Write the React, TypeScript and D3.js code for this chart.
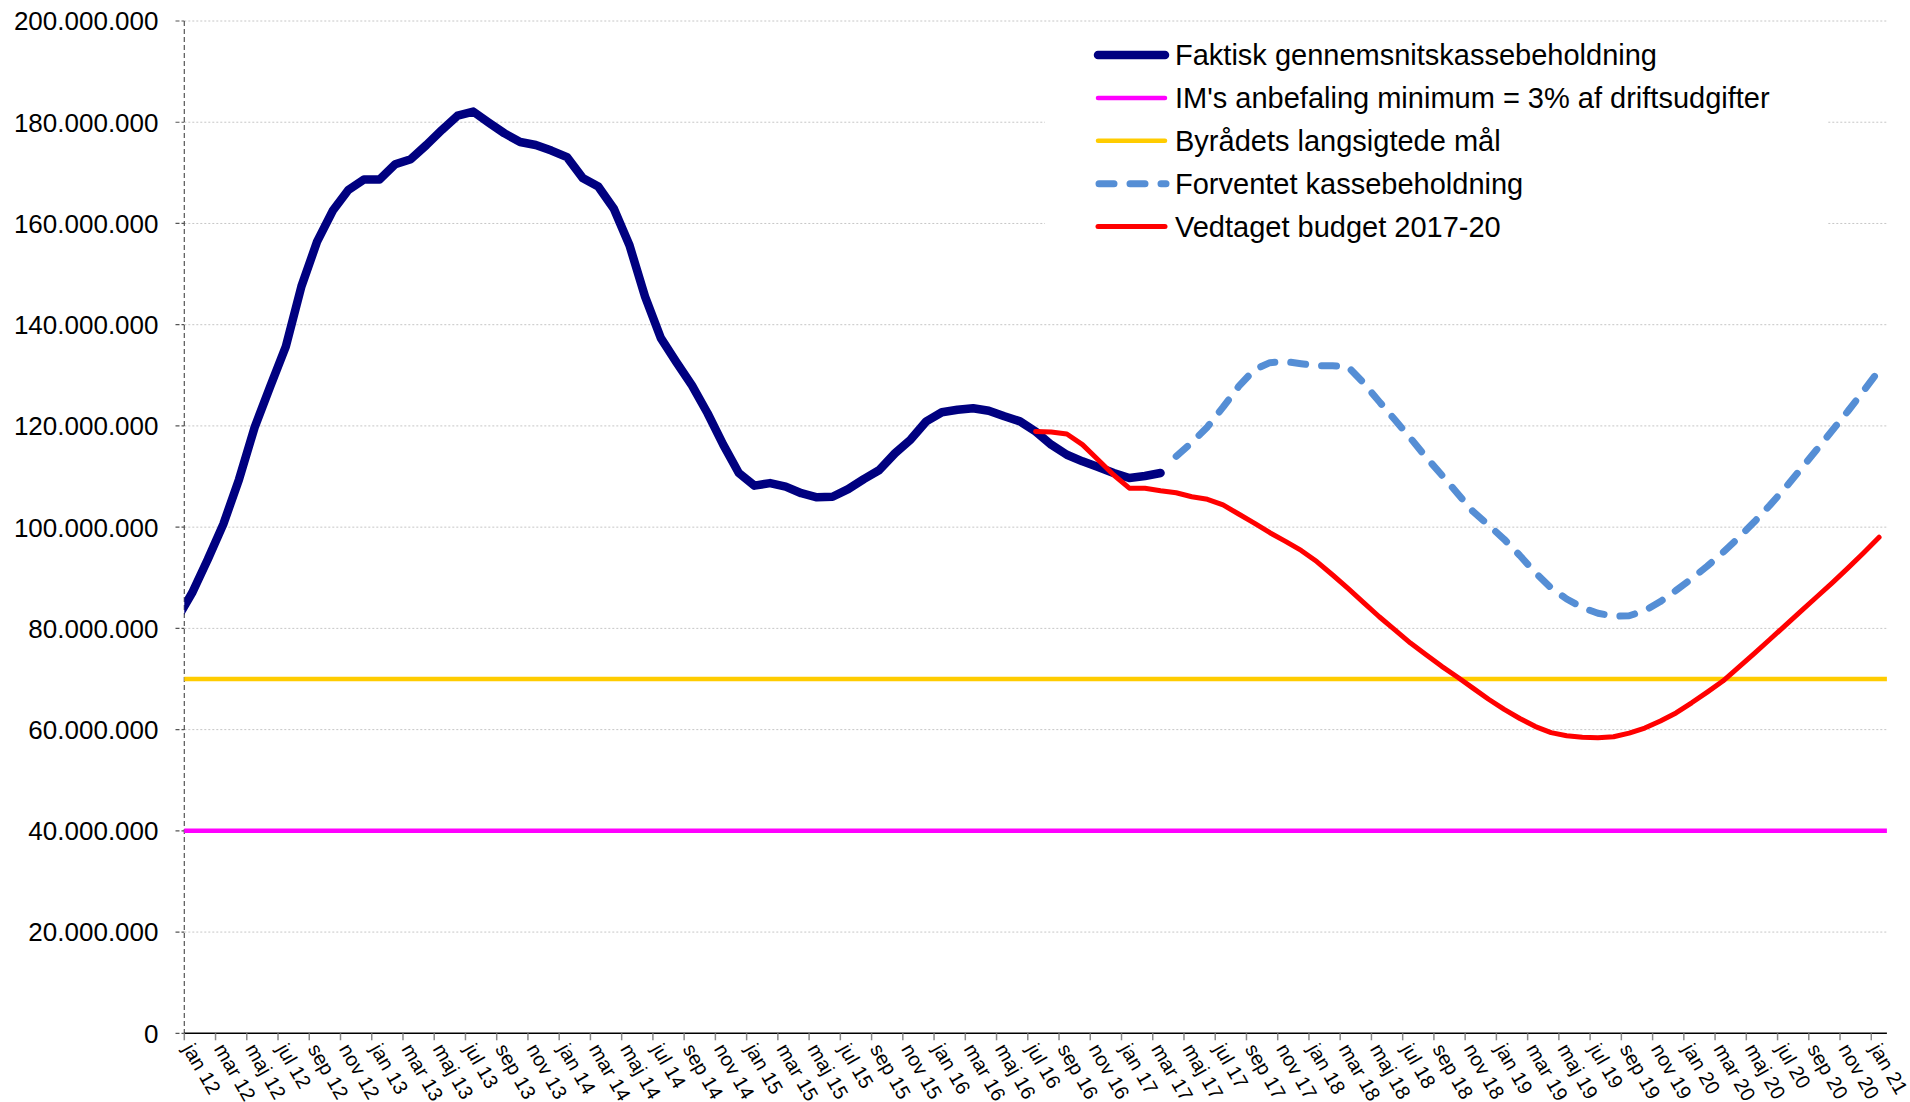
import React from "react";
import * as d3 from "d3";

const W = 1910;
const H = 1102;

const monthNames = ["jan", "feb", "mar", "apr", "maj", "jun", "jul", "aug", "sep", "okt", "nov", "dec"];

const tickLabels = [
  "jan 12", "mar 12", "maj 12", "jul 12", "sep 12", "nov 12",
  "jan 13", "mar 13", "maj 13", "jul 13", "sep 13", "nov 13",
  "jan 14", "mar 14", "maj 14", "jul 14", "sep 14", "nov 14",
  "jan 15", "mar 15", "maj 15", "jul 15", "sep 15", "nov 15",
  "jan 16", "mar 16", "maj 16", "jul 16", "sep 16", "nov 16",
  "jan 17", "mar 17", "maj 17", "jul 17", "sep 17", "nov 17",
  "jan 18", "mar 18", "maj 18", "jul 18", "sep 18", "nov 18",
  "jan 19", "mar 19", "maj 19", "jul 19", "sep 19", "nov 19",
  "jan 20", "mar 20", "maj 20", "jul 20", "sep 20", "nov 20",
  "jan 21",
];

const yTicks = [0, 20e6, 40e6, 60e6, 80e6, 100e6, 120e6, 140e6, 160e6, 180e6, 200e6];

// Values in mio. kr
const faktiskStart = "dec 11";
const faktisk = [
  81.7, 87.0, 93.6, 100.6, 109.4, 119.7, 127.8, 135.7, 147.6, 156.4, 162.5, 166.6, 168.7,
  168.7, 171.7, 172.7, 175.5, 178.5, 181.3, 182.1, 179.9, 177.8, 176.1, 175.5, 174.4,
  173.1, 169.0, 167.3, 162.9, 155.7, 145.5, 137.4, 132.6, 128.0, 122.5, 116.3, 110.7,
  108.2, 108.7, 108.0, 106.7, 105.9, 106.0, 107.5, 109.5, 111.3, 114.6, 117.3, 120.9,
  122.7, 123.2, 123.5, 123.0, 121.9, 120.9, 118.9, 116.3, 114.3, 113.0, 111.9, 110.7,
  109.7, 110.1, 110.7,
];

const forventetStart = "apr 17";
const forventet = [
  114.0, 116.7, 119.8, 123.7, 127.8, 131.1, 132.5, 132.7, 132.3, 131.9, 131.9, 131.7,
  128.5, 124.8, 121.2, 117.6, 113.8, 110.3, 106.7, 103.1, 100.4, 97.6, 94.4, 91.0, 88.0,
  85.8, 84.1, 83.0, 82.4, 82.5, 83.5, 85.3, 87.5, 89.8, 92.3, 95.0, 97.9, 101.0, 104.3,
  107.8, 111.5, 115.3, 119.1, 122.9, 126.9, 131.0,
];

const budgetStart = "jul 16";
const budget = [
  118.9, 118.8, 118.4, 116.3, 113.3, 110.3, 107.7, 107.7, 107.2, 106.8, 106.0, 105.5,
  104.4, 102.6, 100.8, 98.9, 97.2, 95.4, 93.2, 90.6, 87.9, 85.1, 82.3, 79.7, 77.1, 74.8,
  72.5, 70.4, 68.2, 66.0, 64.0, 62.2, 60.6, 59.4, 58.8, 58.5, 58.4, 58.6, 59.3, 60.3,
  61.7, 63.3, 65.3, 67.4, 69.6, 72.3, 75.0, 77.8, 80.6, 83.4, 86.2, 89.0, 91.9, 94.9, 98.0,
];

const imMinimum = 40;
const byraadMaal = 70;

const legendItems = [
  { label: "Faktisk gennemsnitskassebeholdning", color: "#000080", width: 8.5, dash: null },
  { label: "IM's anbefaling minimum = 3% af driftsudgifter", color: "#FF00FF", width: 4.5, dash: null },
  { label: "Byrådets langsigtede mål", color: "#FFCC00", width: 4.5, dash: null },
  { label: "Forventet kassebeholdning", color: "#558ED5", width: 7, dash: "15 16" },
  { label: "Vedtaget budget 2017-20", color: "#FF0000", width: 5, dash: null },
];

function monthIndex(label: string): number {
  const [m, y] = label.split(" ");
  return (parseInt(y, 10) - 12) * 12 + monthNames.indexOf(m);
}

const FONT = "'Liberation Sans', Arial, Helvetica, sans-serif";

export default function App() {
  const left = 184.3;
  const right = 1886.9;
  const top = 21;
  const bottom = 1033.3;
  const nMonths = monthIndex("jan 21") + 1;

  const x = d3.scaleLinear().domain([0, nMonths]).range([left, right]);
  const y = d3.scaleLinear().domain([0, 200e6]).range([bottom, top]);

  const toPoints = (start: string, vals: number[]) =>
    vals.map((v, k) => [monthIndex(start) + k + 0.5, v * 1e6] as [number, number]);

  const line = d3
    .line<[number, number]>()
    .x((d) => x(d[0]))
    .y((d) => y(d[1]));

  const fmtLocale = d3.formatLocale({ decimal: ",", thousands: ".", grouping: [3], currency: ["", ""] });
  const fmt = fmtLocale.format(",d");

  const xTickMonths = tickLabels.map((t) => monthIndex(t));
  const angle = 60;
  const xFont = 20;

  const legendX0 = 1095;
  const legendX1 = 1168;
  const legendTextX = 1175;
  const legendY0 = 55;
  const legendDy = 42.9;

  return (
    <div style={{ position: "fixed", left: 0, top: 0 }}>
      <svg width={W} height={H} viewBox={`0 0 ${W} ${H}`} style={{ display: "block", background: "#fff" }}>
        <defs>
          <clipPath id="plotClip">
            <rect x={left} y={0} width={right - left} height={bottom} />
          </clipPath>
        </defs>
        <rect x={0} y={0} width={W} height={H} fill="#fff" />

        {/* gridlines */}
        {yTicks
          .filter((t) => t > 0)
          .map((t) => (
            <line
              key={"g" + t}
              x1={left}
              x2={right}
              y1={y(t)}
              y2={y(t)}
              stroke="#c6c6c6"
              strokeWidth={1}
              strokeDasharray="2 2"
            />
          ))}

        {/* legend background */}
        <rect x={1045} y={30} width={782} height={222} fill="#fff" />

        {/* y axis */}
        <line x1={left} x2={left} y1={top} y2={bottom} stroke="#555" strokeWidth={1.2} strokeDasharray="5 3" />
        {yTicks.map((t) => (
          <g key={"yt" + t}>
            <line x1={175.5} x2={left} y1={y(t)} y2={y(t)} stroke="#555" strokeWidth={1.2} strokeDasharray="4 2" />
            <text
              x={158.5}
              y={y(t) + 9.4}
              textAnchor="end"
              fontFamily={FONT}
              fontSize={26}
              fill="#000"
            >
              {fmt(t)}
            </text>
          </g>
        ))}

        {/* constant lines */}
        <line
          x1={x(0)}
          x2={x(nMonths)}
          y1={y(imMinimum * 1e6)}
          y2={y(imMinimum * 1e6)}
          stroke="#FF00FF"
          strokeWidth={4.5}
        />
        <line
          x1={x(0)}
          x2={x(nMonths)}
          y1={y(byraadMaal * 1e6)}
          y2={y(byraadMaal * 1e6)}
          stroke="#FFCC00"
          strokeWidth={4.5}
        />

        <g clipPath="url(#plotClip)">
          <path
            d={line(toPoints(forventetStart, forventet)) || ""}
            fill="none"
            stroke="#558ED5"
            strokeWidth={7}
            strokeDasharray="15 16"
            strokeLinecap="round"
            strokeLinejoin="round"
          />
          <path
            d={line(toPoints(faktiskStart, faktisk)) || ""}
            fill="none"
            stroke="#000080"
            strokeWidth={8.5}
            strokeLinecap="round"
            strokeLinejoin="round"
          />
          <path
            d={line(toPoints(budgetStart, budget)) || ""}
            fill="none"
            stroke="#FF0000"
            strokeWidth={5}
            strokeLinecap="round"
            strokeLinejoin="round"
          />
        </g>

        {/* x axis */}
        <line x1={left} x2={right} y1={bottom} y2={bottom} stroke="#000" strokeWidth={1.6} />
        {xTickMonths.map((m, k) => (
          <g key={"xt" + k}>
            <line x1={x(m)} x2={x(m)} y1={bottom} y2={bottom + 7} stroke="#888" strokeWidth={1.5} />
            <text
              transform={`translate(${x(m) + 11},${bottom + 8}) rotate(${angle})`}
              dy="0.75em"
              fontFamily={FONT}
              fontSize={xFont}
              fill="#000"
            >
              {tickLabels[k]}
            </text>
          </g>
        ))}

        {/* legend */}
        {legendItems.map((it, k) => {
          const ly = legendY0 + k * legendDy;
          return (
            <g key={"lg" + k}>
              <line
                x1={legendX0 + (it.dash ? 4 : 3)}
                x2={legendX1 - (it.dash ? 2 : 3)}
                y1={ly}
                y2={ly}
                stroke={it.color}
                strokeWidth={it.width}
                strokeLinecap="round"
                strokeDasharray={it.dash || undefined}
              />
              <text x={legendTextX} y={ly + 10.4} fontFamily={FONT} fontSize={29} fill="#000">
                {it.label}
              </text>
            </g>
          );
        })}
      </svg>
    </div>
  );
}
